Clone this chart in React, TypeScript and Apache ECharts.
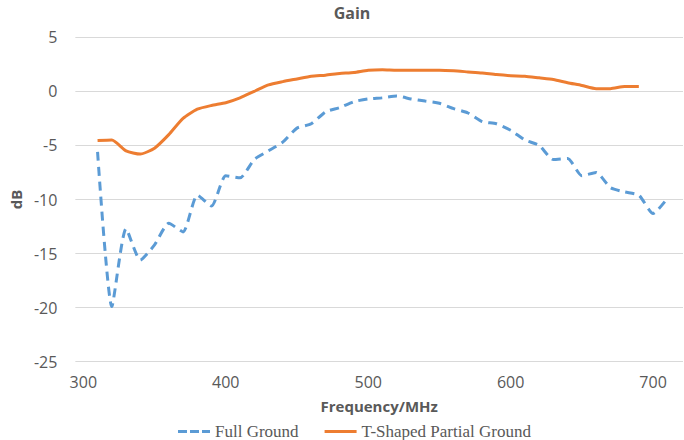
import React, { useEffect, useRef } from "react";
import * as echarts from "echarts";

const freqFull = [310, 320, 330, 340, 350, 360, 370, 380, 390, 400, 410, 420, 430, 440, 450, 460, 470, 480, 490, 500, 510, 520, 530, 540, 550, 560, 570, 580, 590, 600, 610, 620, 630, 640, 650, 660, 670, 680, 690, 700, 710];
const gainFull = [-5.6, -19.9, -12.7, -15.6, -14.2, -12.2, -13.0, -9.6, -10.6, -7.8, -8.0, -6.3, -5.5, -4.7, -3.4, -3.0, -1.9, -1.5, -0.95, -0.7, -0.6, -0.43, -0.7, -0.9, -1.1, -1.6, -2.0, -2.8, -3.0, -3.6, -4.5, -5.0, -6.3, -6.2, -7.8, -7.5, -8.9, -9.3, -9.6, -11.3, -9.9];

const freqT = [310, 320, 330, 340, 350, 360, 370, 380, 390, 400, 410, 420, 430, 440, 450, 460, 470, 480, 490, 500, 510, 520, 530, 540, 550, 560, 570, 580, 590, 600, 610, 620, 630, 640, 650, 660, 670, 680, 690];
const gainT = [-4.55, -4.5, -5.5, -5.8, -5.25, -4.0, -2.5, -1.65, -1.3, -1.05, -0.6, 0.0, 0.6, 0.9, 1.15, 1.4, 1.5, 1.65, 1.75, 1.95, 2.0, 1.95, 1.95, 1.95, 1.95, 1.9, 1.8, 1.7, 1.55, 1.45, 1.4, 1.25, 1.1, 0.8, 0.55, 0.25, 0.25, 0.45, 0.45];

const xTicks = [300, 400, 500, 600, 700];
const seriesNames = ["Full Ground", "T-Shaped Partial Ground"];

const BLUE = "#5B9BD5";
const ORANGE = "#ED7D31";

export default function App() {
  const ref = useRef<HTMLDivElement>(null);
  useEffect(() => {
    if (!ref.current) return;
    const chart = echarts.init(ref.current, null, { renderer: "svg" });
    const gray = "#595959";
    chart.setOption({
      animation: false,
      title: {
        text: "Gain",
        left: 352,
        top: 5,
        padding: 0,
        textAlign: "center",
        textStyle: { fontFamily: "Open Sans", fontSize: 16, fontWeight: "bold", color: gray },
      },
      legend: {
        left: 178,
        top: 423,
        padding: 0,
        itemWidth: 32,
        itemHeight: 3,
        itemGap: 26,
        textStyle: { fontFamily: "Liberation Serif", fontSize: 17, lineHeight: 17, color: gray },
        data: [
          { name: seriesNames[0], icon: "path://M0,0h9v3h-9z M12,0h9v3h-9z M24,0h8v3h-8z", itemStyle: { color: BLUE } },
          { name: seriesNames[1], icon: "rect", itemStyle: { color: ORANGE } },
        ],
      },
      grid: { left: 71, right: 1, top: 37.3, bottom: 78.3, containLabel: false },
      xAxis: {
        type: "value",
        min: 294.4,
        max: 721,
        name: "Frequency/MHz",
        nameLocation: "middle",
        nameGap: 37,
        nameTextStyle: { fontFamily: "Open Sans", fontSize: 15, fontWeight: "bold", color: gray },
        axisLine: { show: false },
        axisTick: { show: false },
        splitLine: { show: false },
        axisLabel: {
          customValues: xTicks,
          margin: 12,
          fontFamily: "Open Sans",
          fontSize: 16,
          color: gray,
        },
      },
      yAxis: {
        type: "value",
        min: -25,
        max: 5,
        interval: 5,
        name: "dB",
        nameLocation: "middle",
        nameRotate: 90,
        nameGap: 48,
        nameTextStyle: { fontFamily: "Open Sans", fontSize: 15, fontWeight: "bold", color: gray },
        axisLine: { show: false },
        axisTick: { show: false },
        splitLine: { show: true, lineStyle: { color: "#D9D9D9", width: 1 } },
        axisLabel: { margin: 18, fontFamily: "Open Sans", fontSize: 16, color: gray },
      },
      series: [
        {
          name: seriesNames[0],
          type: "line",
          data: freqFull.map((f, i) => [f, gainFull[i]]),
          smooth: 0.2,
          symbol: "none",
          itemStyle: { color: BLUE },
          lineStyle: { color: BLUE, width: 3, type: [9, 6] },
        },
        {
          name: seriesNames[1],
          type: "line",
          data: freqT.map((f, i) => [f, gainT[i]]),
          smooth: 0.2,
          symbol: "none",
          itemStyle: { color: ORANGE },
          lineStyle: { color: ORANGE, width: 3 },
        },
      ],
    });
    return () => chart.dispose();
  }, []);
  return <div ref={ref} style={{ width: 684, height: 440, position: "absolute", left: 0, top: 0 }} />;
}
